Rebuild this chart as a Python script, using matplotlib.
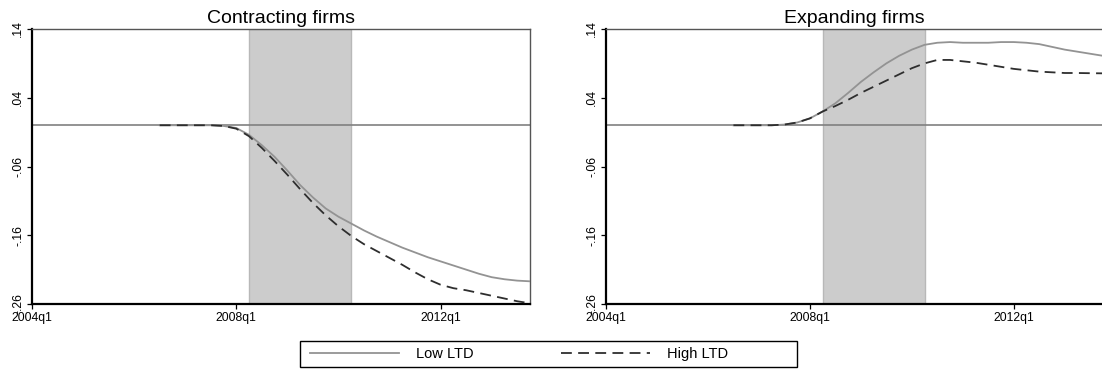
import matplotlib
matplotlib.use("Agg")
from matplotlib import pyplot as plt
from matplotlib.lines import Line2D
from matplotlib.patches import Rectangle

plt.rcParams['font.family'] = ['Liberation Sans', 'DejaVu Sans']

# quarters in Stata %tq units (2004q1 = 176)
quarters = list(range(186, 216))
tick_pos = [176, 192, 208]
tick_labels = ["2004q1", "2008q1", "2012q1"]
y_ticks = [0.14, 0.04, -0.06, -0.16, -0.26]
y_tick_labels = [".14", ".04", "-.06", "-.16", "-.26"]
recession = (193, 201)

# Contracting firms
contract_low = [0, 0, 0, 0, 0, -0.001, -0.004, -0.014, -0.029, -0.046,
                -0.066, -0.087, -0.105, -0.121, -0.133, -0.143, -0.153, -0.162,
                -0.170, -0.178, -0.185, -0.192, -0.198, -0.204, -0.210, -0.216,
                -0.221, -0.224, -0.226, -0.227]
contract_high = [0, 0, 0, 0, 0, -0.001, -0.005, -0.016, -0.033, -0.052,
                 -0.072, -0.093, -0.113, -0.131, -0.147, -0.161, -0.173, -0.183,
                 -0.193, -0.203, -0.214, -0.224, -0.232, -0.237, -0.240, -0.244,
                 -0.248, -0.252, -0.256, -0.259]

# Expanding firms
expand_low = [0, 0, 0, 0, 0.001, 0.004, 0.010, 0.020, 0.032, 0.047,
              0.063, 0.077, 0.090, 0.101, 0.110, 0.117, 0.120, 0.121,
              0.120, 0.120, 0.120, 0.121, 0.121, 0.120, 0.118, 0.114,
              0.110, 0.107, 0.104, 0.101]
expand_high = [0, 0, 0, 0, 0.001, 0.004, 0.010, 0.020, 0.028, 0.037,
               0.047, 0.056, 0.065, 0.074, 0.083, 0.090, 0.095, 0.095,
               0.093, 0.091, 0.088, 0.085, 0.082, 0.080, 0.078, 0.077,
               0.076, 0.076, 0.0757, 0.0755]

W, H = 1102, 369
fig = plt.figure(figsize=(W / 100, H / 100), dpi=100)

panels = [
    ("Contracting firms", contract_low, contract_high, 32, 530),
    ("Expanding firms", expand_low, expand_high, 606, 1103),
]

low_style = dict(color="#939393", linewidth=1.3)
high_style = dict(color="#2e2e2e", linewidth=1.3, dashes=(6, 3.5))

for title, low, high, x0, x1 in panels:
    ax = fig.add_axes([x0 / W, (H - 304) / H, (x1 - x0) / W, (304 - 29) / H])
    ax.axvspan(recession[0], recession[1], facecolor="#cccccc",
               edgecolor="#b8b8b8", linewidth=1.0, zorder=0)
    ax.axhline(0, color="#808080", linewidth=1.2, zorder=1)
    ax.plot(quarters, low, zorder=3, **low_style)
    ax.plot(quarters, high, zorder=3, **high_style)
    ax.set_xlim(176, 215)
    ax.set_ylim(-0.26, 0.14)
    ax.set_xticks(tick_pos)
    ax.set_xticklabels(tick_labels, fontsize=8.7)
    ax.set_yticks(y_ticks)
    ax.set_yticklabels(y_tick_labels, fontsize=8.7, rotation=90, va="center")
    ax.tick_params(direction="out", length=3.5, width=0.9, color="black", pad=2)
    for side in ("left", "bottom"):
        ax.spines[side].set_color("black")
        ax.spines[side].set_linewidth(1.6)
    for side in ("top", "right"):
        ax.spines[side].set_color("#555555")
        ax.spines[side].set_linewidth(1.0)
    ax.set_title(title, fontsize=14, pad=4)

# legend box drawn separately so entries keep Stata-like spacing
fig.patches.append(Rectangle((300 / W, 2 / H), 497 / W, 26 / H,
                             transform=fig.transFigure, fill=False,
                             edgecolor="black", linewidth=1.0))
handles = [Line2D([], [], **low_style), Line2D([], [], **high_style)]
fig.legend(handles, ["Low LTD", "High LTD"], ncol=2, loc="center left",
           bbox_to_anchor=(310 / W, 15 / H), fontsize=10.5, frameon=False,
           handlelength=6.1, handletextpad=1.15, columnspacing=6.0,
           borderpad=0, borderaxespad=0)

fig.savefig("out.png", dpi=100)
